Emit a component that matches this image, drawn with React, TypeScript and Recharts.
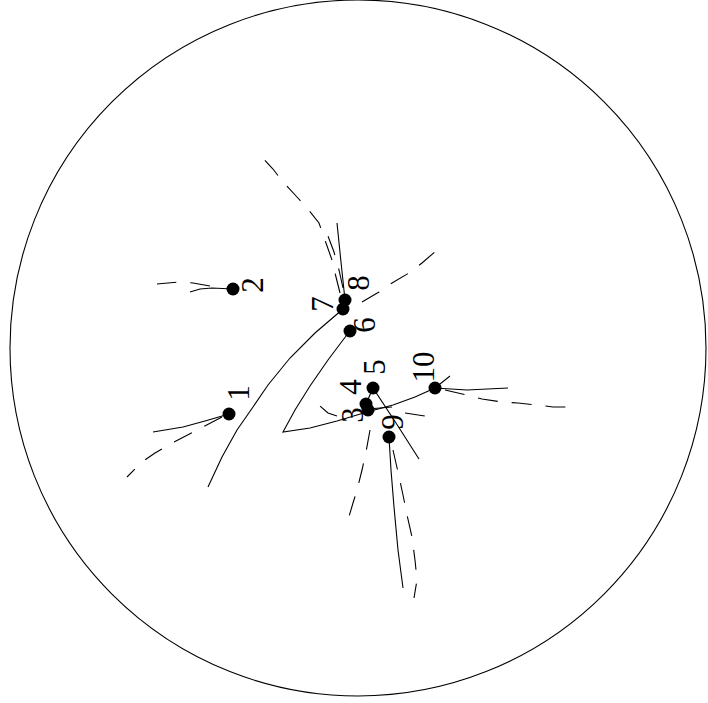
import React from "react";
import { ScatterChart, Scatter, XAxis, YAxis, ReferenceDot } from "recharts";

// coordinates (x right, y down)
type Pt = { x: number; y: number };

const STATION_IDS = ["1", "2", "3", "4", "5", "6", "7", "8", "9", "10"];
const STATION_X = [229, 233, 368, 366, 373, 350, 343, 345, 389, 435];
const STATION_Y = [414, 289, 410, 404, 388, 331, 309, 300, 437, 388];

// solid tracks
const solid1: Pt[] = [
  { x: 229, y: 414 }, { x: 205, y: 421 }, { x: 183, y: 427 }, { x: 153, y: 432 },
];
const solid2: Pt[] = [
  { x: 233, y: 289 }, { x: 212, y: 288 }, { x: 200, y: 289 }, { x: 190, y: 292 },
];
const solid7: Pt[] = [
  { x: 343, y: 309 }, { x: 315, y: 333 }, { x: 290, y: 358 }, { x: 268, y: 385 },
  { x: 253, y: 407 }, { x: 237, y: 430 }, { x: 222, y: 457 }, { x: 208, y: 487 },
];
const solid6: Pt[] = [
  { x: 350, y: 331 }, { x: 343, y: 340 }, { x: 328, y: 360 }, { x: 310, y: 386 },
  { x: 295, y: 410 }, { x: 283, y: 432 }, { x: 310, y: 428 }, { x: 337, y: 421 },
  { x: 367, y: 412 }, { x: 393, y: 405 }, { x: 415, y: 397 }, { x: 435, y: 388 },
  { x: 450, y: 376 },
];
const solid8: Pt[] = [{ x: 345, y: 300 }, { x: 341, y: 262 }, { x: 337, y: 223 }];
const solid5: Pt[] = [
  { x: 366, y: 404 }, { x: 373, y: 388 }, { x: 396, y: 423 }, { x: 419, y: 459 },
];
const solid3: Pt[] = [{ x: 368, y: 409 }, { x: 392, y: 407 }];
const solid9: Pt[] = [
  { x: 389, y: 437 }, { x: 391, y: 470 }, { x: 394, y: 507 }, { x: 398, y: 550 },
  { x: 403, y: 588 },
];
const solid10: Pt[] = [{ x: 435, y: 388 }, { x: 467, y: 390 }, { x: 508, y: 388 }];

// dashed tracks
const dashed1: Pt[] = [
  { x: 222, y: 417 }, { x: 203, y: 427 }, { x: 172, y: 443 }, { x: 155, y: 453 },
  { x: 142, y: 462 }, { x: 127, y: 477 },
];
const dashed2: Pt[] = [
  { x: 210, y: 286 }, { x: 193, y: 283 }, { x: 180, y: 282 }, { x: 157, y: 284 },
];
const dashed8a: Pt[] = [
  { x: 340, y: 293 }, { x: 336, y: 277 }, { x: 332, y: 260 }, { x: 326, y: 243 },
  { x: 319, y: 223 }, { x: 307, y: 208 }, { x: 297, y: 197 }, { x: 283, y: 182 },
  { x: 273, y: 169 }, { x: 259, y: 154 },
];
const dashed8b: Pt[] = [
  { x: 343, y: 288 }, { x: 339, y: 270 }, { x: 334, y: 252 }, { x: 328, y: 236 },
];
const dashed8c: Pt[] = [
  { x: 362, y: 302 }, { x: 379, y: 292 }, { x: 392, y: 283 }, { x: 409, y: 273 },
  { x: 422, y: 263 }, { x: 437, y: 250 },
];
const dashed3a: Pt[] = [{ x: 337, y: 416 }, { x: 328, y: 413 }, { x: 320, y: 406 }];
const dashed3b: Pt[] = [{ x: 405, y: 413 }, { x: 425, y: 416 }];
const dashed3c: Pt[] = [
  { x: 370, y: 430 }, { x: 366, y: 452 }, { x: 362, y: 470 }, { x: 357, y: 490 },
  { x: 353, y: 503 }, { x: 348, y: 520 },
];
const dashed9: Pt[] = [
  { x: 393, y: 450 }, { x: 398, y: 472 }, { x: 403, y: 495 }, { x: 407, y: 515 },
  { x: 412, y: 537 }, { x: 415, y: 560 }, { x: 417, y: 580 }, { x: 414, y: 598 },
];
const dashed10: Pt[] = [
  { x: 445, y: 390 }, { x: 467, y: 395 }, { x: 482, y: 399 }, { x: 502, y: 402 },
  { x: 518, y: 403 }, { x: 537, y: 405 }, { x: 553, y: 407 }, { x: 575, y: 407 },
];

const SOLID = [solid1, solid2, solid7, solid6, solid8, solid5, solid3, solid9, solid10];
const DASHED = [dashed1, dashed2, dashed8a, dashed8b, dashed8c, dashed3a, dashed3b, dashed3c, dashed9, dashed10];

// where each number sits relative to its dot (pixels)
const LABEL_DX = [9, 19, -16, -16, 1, 14, -21, 13, 3, -12];
const LABEL_DY = [-21, -4, 5, -17, -21, -6, -5, -17, -15, -21];

const stations = STATION_IDS.map((id, i) => ({ id, idx: i, x: STATION_X[i], y: STATION_Y[i] }));

const W = 708;
const H = 703;

const noDot = () => <g />;

const StationDot = (props: any) => {
  const { cx, cy, payload } = props;
  const lx = cx + LABEL_DX[payload.idx];
  const ly = cy + LABEL_DY[payload.idx];
  return (
    <g>
      <circle cx={cx} cy={cy} r={6.5} fill="#000" />
      <text
        x={lx}
        y={ly}
        textAnchor="middle"
        dominantBaseline="central"
        fontFamily="'Liberation Serif', 'DejaVu Serif', serif"
        fontSize={31}
        fill="#000"
        transform={`rotate(-90, ${lx}, ${ly})`}
      >
        {payload.id}
      </text>
    </g>
  );
};

export default function App() {
  return (
    <div style={{ position: "absolute", left: 0, top: 0, width: W, height: H, background: "#fff" }}>
      <ScatterChart width={W} height={H} margin={{ top: 0, right: 0, bottom: 0, left: 0 }}>
        <XAxis type="number" dataKey="x" domain={[0, W]} allowDataOverflow hide />
        <YAxis type="number" dataKey="y" domain={[0, H]} reversed allowDataOverflow hide />
        <ReferenceDot
          x={358}
          y={348}
          r={348}
          fill="none"
          stroke="#000"
          strokeWidth={1.1}
          ifOverflow="visible"
        />
        {SOLID.map((d, i) => (
          <Scatter
            key={`s-${i}`}
            data={d}
            fill="#000"
            line={{ stroke: "#000", strokeWidth: 1.1 }}
            lineType="joint"
            shape={noDot}
            isAnimationActive={false}
          />
        ))}
        {DASHED.map((d, i) => (
          <Scatter
            key={`d-${i}`}
            data={d}
            fill="#000"
            line={{ stroke: "#000", strokeWidth: 1.1, strokeDasharray: "20 14" }}
            lineType="joint"
            shape={noDot}
            isAnimationActive={false}
          />
        ))}
        <Scatter data={stations} fill="#000" shape={StationDot} isAnimationActive={false} />
      </ScatterChart>
    </div>
  );
}
